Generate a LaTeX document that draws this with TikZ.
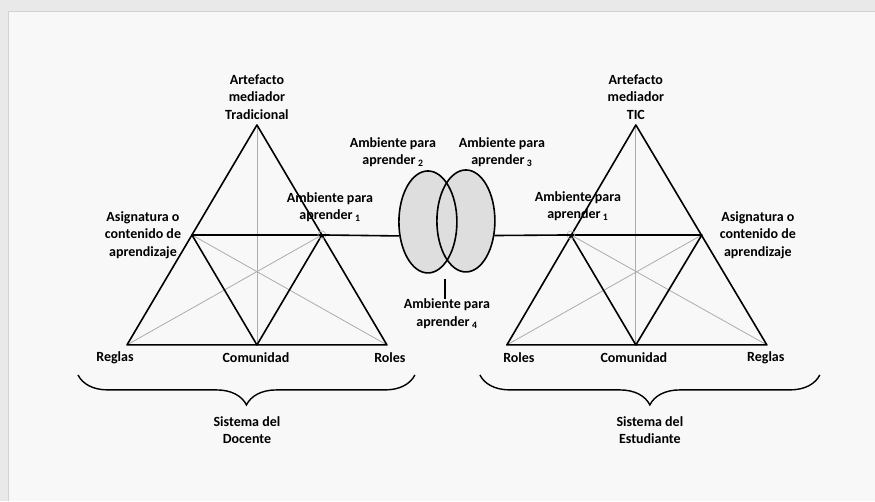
\documentclass[tikz,border=0pt]{standalone}
\usepackage{fontspec}
\setmainfont{Carlito}
\usetikzlibrary{shapes.geometric,decorations.pathreplacing}
\definecolor{fondo}{HTML}{F8F8F8}
\definecolor{marco}{HTML}{E9E9E9}
\definecolor{relleno}{HTML}{DEDEDE}
\begin{document}
\begin{tikzpicture}[x=1pt,y=-1pt,
  txt/.style={font=\bfseries\fontsize{14}{17.5}\selectfont,align=center,inner sep=0pt},
  gruesa/.style={line width=1.6pt,line join=round},
  fina/.style={line width=0.8pt,gray!65},
  ambiente/.style={ellipse,minimum width=58pt,minimum height=102pt,inner sep=0pt,line width=1.6pt},
  llave/.style={line width=1.4pt,decorate,decoration={brace,mirror,amplitude=30pt}}]
% fondo
\fill[marco] (0,0) rectangle (875,501);
\fill[fondo] (8,11) rectangle (875,501);
\draw[gray!35] (8,501) -- (8,11) -- (875,11);

% sistema del docente
\coordinate (dA) at (257,125);
\coordinate (dR) at (127,345);
\coordinate (dL) at (387,345);
\coordinate (dC) at (257,345);
\coordinate (dS) at (192,235);
\coordinate (dM) at (322,235);
\draw[fina] (dA) -- (dC);
\draw[fina] (dS) -- (dL);
\draw[fina] (dM) -- (dR);
\draw[gruesa] (dA) -- (dR) -- (dL) -- cycle;
\draw[gruesa] (dS) -- (dM) -- (dC) -- cycle;
\draw[gray!60,line width=0.6pt] (dM) circle (4);

% sistema del estudiante
\coordinate (eA) at (636,125);
\coordinate (eL) at (507,345);
\coordinate (eR) at (767,345);
\coordinate (eC) at (636,345);
\coordinate (eM) at (571,235);
\coordinate (eS) at (702,235);
\draw[fina] (eA) -- (eC);
\draw[fina] (eM) -- (eR);
\draw[fina] (eS) -- (eL);
\draw[gruesa] (eA) -- (eL) -- (eR) -- cycle;
\draw[gruesa] (eM) -- (eS) -- (eC) -- cycle;
\draw[gray!60,line width=0.6pt] (eM) circle (4);

% ambientes compartidos
\foreach \x/\y in {428/222,466/221}
  \node[ambiente,fill=relleno] at (\x,\y) {};
\node[ambiente,draw] (amb2) at (428,222) {};
\node[ambiente,draw] (amb3) at (466,221) {};
\draw[gruesa] (dM) -- (amb2.206);
\draw[gruesa] (amb3.-27) -- (eM);

% textos
\node[txt] (artD) at (257,97) {Artefacto\\mediador\\Tradicional};
\node[txt] (artE) at (636,97) {Artefacto\\mediador\\TIC};
\node[txt] (asigD) at (143,235) {Asignatura o\\contenido de\\aprendizaje};
\node[txt] (asigE) at (758,235) {Asignatura o\\contenido de\\aprendizaje};
\node[txt] (ambD) at (330,207) {Ambiente para\\aprender\,\textsubscript{1}};
\node[txt] (ambE) at (578,206) {Ambiente para\\aprender\,\textsubscript{1}};
\node[txt] (amb2t) at (393,152) {Ambiente para\\aprender\,\textsubscript{2}};
\node[txt] (amb3t) at (502,152) {Ambiente para\\aprender\,\textsubscript{3}};
\node[txt] (amb4t) at (447,314) {Ambiente para\\aprender\,\textsubscript{4}};
\coordinate (cruce) at (445,279);
\draw[gruesa] (cruce) -- (cruce |- amb4t.north);

\node[txt] (reglasD) at (115,358) {Reglas};
\node[txt] (comD) at (256,358) {Comunidad};
\node[txt] (rolesD) at (390,358) {Roles};
\node[txt] (rolesE) at (519,358) {Roles};
\node[txt] (comE) at (634,358) {Comunidad};
\node[txt] (reglasE) at (766,358) {Reglas};

% llaves
\coordinate (llD1) at (78,375);
\coordinate (llD2) at (415,375);
\coordinate (llE1) at (480,375);
\coordinate (llE2) at (820,375);
\draw[llave] (llD1) -- (llD2);
\draw[llave] (llE1) -- (llE2);
\node[txt] (sisD) at (247,430) {Sistema del\\Docente};
\node[txt] (sisE) at (650,430) {Sistema del\\Estudiante};
\end{tikzpicture}
\end{document}
